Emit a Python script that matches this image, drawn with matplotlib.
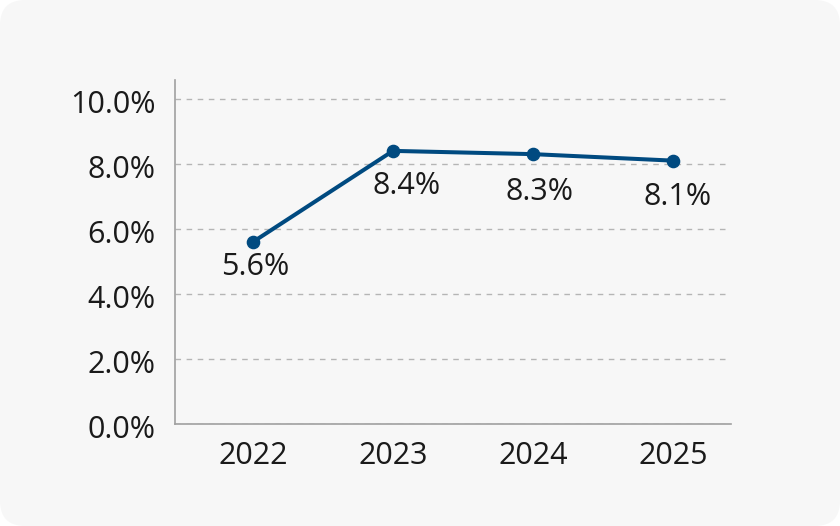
import matplotlib.pyplot as plt
import matplotlib.transforms as mtransforms
from matplotlib.patches import FancyBboxPatch
from matplotlib.ticker import FuncFormatter

years = ['2022', '2023', '2024', '2025']
rates = [5.6, 8.4, 8.3, 8.1]
labels = ['5.6%', '8.4%', '8.3%', '8.1%']

# label nudges in points (dx, dy) so they sit like the original
nudges = [(1.5, -7.6), (10, -14.8), (5, -16.2), (3.6, -15.5)]

plt.rcParams['font.family'] = ['Open Sans', 'DejaVu Sans']

fig = plt.figure(figsize=(8.4, 5.26), dpi=100, facecolor='white')
# rounded card behind the chart
bg = FancyBboxPatch((0, 0), 1, 1, boxstyle='round,pad=0,rounding_size=0.03',
                    transform=fig.transFigure, facecolor='#f7f7f7', edgecolor='none',
                    mutation_aspect=840/526, zorder=-10)
fig.patches.append(bg)

ax = fig.add_axes([175/840, 102/526, 556/840, 344/526])
ax.set_facecolor('none')

x = list(range(len(years)))
ax.plot(x, rates, color='#004a80', linewidth=2.9, marker='o', markersize=8.8, zorder=3)
for xi, yi, lab, (dx, dy) in zip(x, rates, labels, nudges):
    ax.annotate(lab, (xi, yi), xytext=(dx, dy), textcoords='offset points',
                ha='center', va='top', fontsize=22, color='#1a1a1a')

ax.set_xlim(-0.557, 3.414)
ax.set_ylim(0, 10.58)
ax.set_yticks([0, 2, 4, 6, 8, 10])
ax.yaxis.set_major_formatter(FuncFormatter(lambda v, p: '{:.1f}%'.format(v)))
ax.set_xticks(x)
ax.set_xticklabels(years)
ax.tick_params(axis='both', length=0, labelsize=22, colors='#1a1a1a')
ax.tick_params(axis='x', pad=12)
ax.tick_params(axis='y', pad=14)
ax.grid(axis='y', linestyle=(0, (4, 4)), color='#b5b5b5', linewidth=1)
ax.set_axisbelow(True)
for s in ['top', 'right']:
    ax.spines[s].set_visible(False)
for s in ['left', 'bottom']:
    ax.spines[s].set_color('#a0a0a0')
    ax.spines[s].set_linewidth(1.2)

# y labels sit a little below their gridlines in the original
shift = mtransforms.ScaledTranslation(0, -3/100, fig.dpi_scale_trans)
for t in ax.get_yticklabels():
    t.set_transform(t.get_transform() + shift)

fig.savefig('out.png', dpi=100, facecolor=fig.get_facecolor())
